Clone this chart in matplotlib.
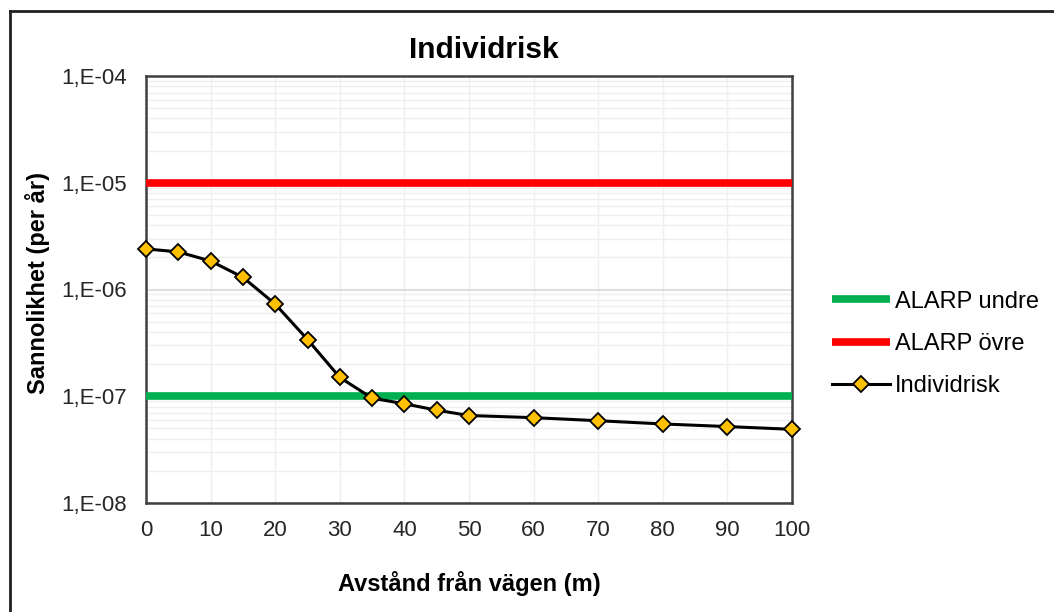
import math

import matplotlib
matplotlib.use("Agg")
import matplotlib.pyplot as plt
from matplotlib.lines import Line2D
from matplotlib.ticker import FixedLocator, FuncFormatter, LogLocator, NullFormatter

plt.rcParams["font.family"] = ["Liberation Sans", "DejaVu Sans"]

distance = [0, 5, 10, 15, 20, 25, 30, 35, 40, 45, 50, 60, 70, 80, 90, 100]
individrisk = [2.4e-6, 2.25e-6, 1.85e-6, 1.3e-6, 7.3e-7, 3.4e-7, 1.5e-7, 9.6e-8,
               8.5e-8, 7.4e-8, 6.6e-8, 6.3e-8, 5.9e-8, 5.5e-8, 5.2e-8, 4.9e-8]
alarp_undre = 1e-7
alarp_ovre = 1e-5
x_ticks = [0, 10, 20, 30, 40, 50, 60, 70, 80, 90, 100]
y_ticks = [1e-8, 1e-7, 1e-6, 1e-5, 1e-4]

fig = plt.figure(figsize=(10.54, 6.12), dpi=100)
ax = fig.add_axes([146 / 1054, 1 - 503 / 612, (792 - 146) / 1054, (503 - 76) / 612])

ax.plot([0, 100], [alarp_undre, alarp_undre], color="#00B050", lw=5.5,
        solid_capstyle="butt", label="ALARP undre", zorder=3)
ax.plot([0, 100], [alarp_ovre, alarp_ovre], color="#FF0000", lw=5.5,
        solid_capstyle="butt", label="ALARP övre", zorder=3)
ax.plot(distance, individrisk, color="black", lw=2.2, marker="D", markersize=8.5,
        markerfacecolor="#FFC000", markeredgecolor="black", markeredgewidth=1.3,
        label="Individrisk", zorder=4, clip_on=False)

ax.set_yscale("log")
ax.set_xlim(0, 100)
ax.set_ylim(1e-8, 1e-4)
ax.xaxis.set_major_locator(FixedLocator(x_ticks))
ax.yaxis.set_major_locator(FixedLocator(y_ticks))
ax.yaxis.set_minor_locator(LogLocator(base=10, subs=range(2, 10)))
ax.yaxis.set_minor_formatter(NullFormatter())
ax.yaxis.set_major_formatter(FuncFormatter(lambda v, p: "1,E-%02d" % round(-math.log10(v))))

ax.grid(True, which="major", axis="y", color="#D9D9D9", lw=1.2)
ax.grid(True, which="minor", axis="y", color="#EFEFEF", lw=1.0)
ax.grid(True, which="major", axis="x", color="#EFEFEF", lw=1.0)
ax.set_axisbelow(True)

for s in ax.spines.values():
    s.set_color("#404040")
    s.set_linewidth(1.8)
ax.tick_params(which="both", length=0, labelsize=16, colors="#262626", pad=12)
ax.tick_params(axis="y", pad=14)

ax.set_title("Individrisk", fontsize=21.5, fontweight="bold", pad=13, x=0.523)
ax.set_xlabel("Avstånd från vägen (m)", fontsize=17, fontweight="bold", labelpad=22)
ax.set_ylabel("Sannolikhet (per år)", fontsize=17, fontweight="bold")
ax.yaxis.set_label_coords(-0.148, 0.515)

fig.legend(loc="center left", bbox_to_anchor=(832 / 1054, 1 - 344 / 612), frameon=False,
           fontsize=17, handlelength=2.45, handletextpad=0.2, labelspacing=0.86,
           numpoints=1, borderaxespad=0, borderpad=0)

# outer chart border (left and top visible)
fig.add_artist(Line2D([10 / 1054, 10 / 1054], [0, 1 - 11 / 612], color="#202020", lw=2))
fig.add_artist(Line2D([10 / 1054, 1], [1 - 11 / 612, 1 - 11 / 612], color="#202020", lw=2))

fig.savefig("out.png", dpi=100)
